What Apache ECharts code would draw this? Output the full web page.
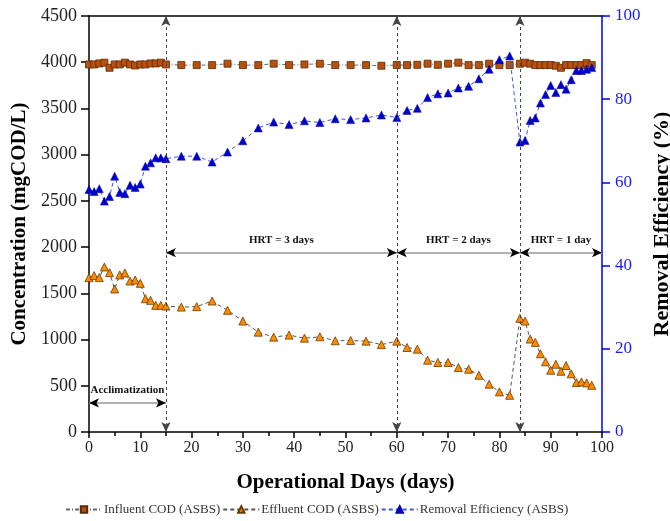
<!DOCTYPE html>
<html>
<head>
<meta charset="utf-8">
<script src="https://cdn.jsdelivr.net/npm/echarts@6/dist/echarts.min.js"></script>
<style>
  html, body { margin: 0; padding: 0; background: #fff; }
  #chart { width: 670px; height: 521px; }
</style>
</head>
<body>
<div id="chart"></div>
<script>
// operational day of each sample
const days = [0, 1, 2, 3, 4, 5, 6, 7, 8, 9, 10, 11, 12, 13, 14, 15,
  18, 21, 24, 27, 30, 33, 36, 39, 42, 45, 48, 51, 54, 57, 60,
  62, 64, 66, 68, 70, 72, 74, 76, 78, 80, 82, 84,
  85, 86, 87, 88, 89, 90, 91, 92, 93, 94, 95, 96, 97, 98];

// mgCOD/L
const influent = [3976, 3976, 3987, 3995, 3940, 3976, 3976, 3995, 3976, 3965, 3976, 3976, 3987, 3987, 3995, 3976,
  3969, 3969, 3969, 3984, 3969, 3969, 3984, 3969, 3976, 3984, 3969, 3969, 3969, 3962, 3970,
  3969, 3972, 3984, 3972, 3984, 3995, 3969, 3969, 3984, 3969, 3969, 3984,
  3995, 3984, 3969, 3969, 3969, 3969, 3962, 3940, 3969, 3969, 3969, 3969, 3990, 3969];

const effluent = [1670, 1692, 1670, 1785, 1724, 1547, 1699, 1720, 1633, 1644, 1608, 1442, 1424, 1370, 1370, 1362,
  1351, 1356, 1417, 1316, 1200, 1080, 1026, 1048, 1015, 1030, 987, 990, 983, 945, 983,
  914, 896, 777, 752, 752, 697, 679, 614, 517, 434, 397, 1229,
  1200, 1005, 969, 846, 759, 668, 733, 657, 719, 629, 535, 542, 531, 505];

// %
const removal = [58.3, 57.8, 58.5, 55.5, 56.6, 61.5, 57.6, 57.3, 59.3, 58.8, 59.6, 63.9, 64.7, 65.9, 65.9, 65.7,
  66.3, 66.3, 64.9, 67.3, 70.0, 73.1, 74.5, 73.9, 74.8, 74.4, 75.3, 75.1, 75.5, 76.2, 75.6,
  77.3, 77.8, 80.4, 81.3, 81.5, 82.7, 83.1, 84.9, 87.2, 89.5, 90.4, 69.7,
  70.1, 74.9, 75.5, 79.1, 81.1, 83.3, 81.6, 83.5, 82.4, 84.7, 86.9, 86.9, 87.2, 87.6];

// phase boundaries and labels
const phaseDays = [15, 60, 84];
const phases = [
  { name: 'Acclimatization', from: 0, to: 15, level: 315 },
  { name: 'HRT = 3 days', from: 15, to: 60, level: 1940 },
  { name: 'HRT = 2 days', from: 60, to: 84, level: 1940 },
  { name: 'HRT = 1 day', from: 84, to: 100, level: 1940 }
];

const serif = 'Liberation Serif';
const pair = (a, b) => a.map((v, i) => [v, b[i]]);

let myChart = echarts.init(document.getElementById('chart'));
myChart.setOption({
  animation: false,
  grid: { left: 89, right: 68, top: 16, bottom: 89, outerBoundsMode: 'none' },
  legend: {
    bottom: 0,
    left: 60,
    itemWidth: 36,
    itemHeight: 8,
    itemGap: 2,
    data: ['Influent COD (ASBS)', 'Effluent COD (ASBS)', 'Removal Efficiency (ASBS)'],
    textStyle: { fontFamily: serif, fontSize: 13, color: '#333', padding: [0, 0, 0, -3] }
  },
  xAxis: [
    {
      type: 'value', min: 0, max: 100, interval: 10,
      name: 'Operational Days (days)', nameLocation: 'middle', nameGap: 40,
      nameTextStyle: { fontFamily: serif, fontSize: 21, fontWeight: 'bold', color: '#000' },
      axisLine: { onZero: false, lineStyle: { color: '#000', width: 1.5 } },
      axisTick: { length: 6, lineStyle: { color: '#000', width: 1.5 } },
      minorTick: { show: true, splitNumber: 2, length: 4, lineStyle: { color: '#000', width: 1.5 } },
      axisLabel: { fontFamily: serif, fontSize: 16, color: '#222', margin: 8 },
      splitLine: { show: false }
    },
    {
      type: 'value', min: 0, max: 100, position: 'top',
      axisLine: { show: true, onZero: false, lineStyle: { color: '#000', width: 1.5 } },
      axisTick: { show: false }, axisLabel: { show: false }, splitLine: { show: false }
    }
  ],
  yAxis: [
    {
      type: 'value', min: 0, max: 4500, interval: 500,
      name: 'Concentration (mgCOD/L)', nameLocation: 'middle', nameGap: 54,
      nameTextStyle: { fontFamily: serif, fontSize: 21, fontWeight: 'bold', color: '#000' },
      axisLine: { show: true, onZero: false, lineStyle: { color: '#000', width: 1.5 } },
      axisTick: { show: true, length: 8, lineStyle: { color: '#000', width: 1.5 } },
      axisLabel: { fontFamily: serif, fontSize: 18, color: '#222', margin: 12, formatter: v => String(v) },
      splitLine: { show: false }
    },
    {
      type: 'value', min: 0, max: 100, interval: 20, position: 'right',
      name: 'Removal Efficiency (%)', nameLocation: 'middle', nameGap: 43,
      nameTextStyle: { fontFamily: serif, fontSize: 22, fontWeight: 'bold', color: '#000' },
      axisLine: { show: true, onZero: false, lineStyle: { color: '#0000ee', width: 1.5 } },
      axisTick: { show: true, length: 8, lineStyle: { color: '#0000ee', width: 1.5 } },
      axisLabel: { fontFamily: serif, fontSize: 17, color: '#1a1aff', margin: 13 },
      splitLine: { show: false }
    }
  ],
  series: [
    {
      name: 'Influent COD (ASBS)', type: 'line', yAxisIndex: 0,
      data: pair(days, influent),
      symbol: 'rect', symbolSize: 7,
      itemStyle: { color: '#b8500e', borderColor: '#5a2a05', borderWidth: 0.8 },
      lineStyle: { color: '#666', width: 1, type: [4, 2, 1, 2] },
      z: 3
    },
    {
      name: 'Effluent COD (ASBS)', type: 'line', yAxisIndex: 0,
      data: pair(days, effluent),
      symbol: 'triangle', symbolSize: 8,
      itemStyle: { color: '#ff8c00', borderColor: '#6b3a00', borderWidth: 0.8 },
      lineStyle: { color: '#555', width: 1, type: [4, 3] },
      z: 3
    },
    {
      name: 'Removal Efficiency (ASBS)', type: 'line', yAxisIndex: 1,
      data: pair(days, removal),
      symbol: 'triangle', symbolSize: 8,
      itemStyle: { color: '#0000cc', borderColor: '#0000aa', borderWidth: 0.5 },
      lineStyle: { color: '#3a55f0', width: 1, type: [4, 3] },
      z: 4
    },
    // phase boundaries
    {
      type: 'line', data: [], yAxisIndex: 0,
      markLine: {
        silent: true, symbol: ['arrow', 'arrow'], symbolSize: [7, 10],
        label: { show: false },
        lineStyle: { color: '#444', width: 1, type: [3, 3] },
        data: phaseDays.map(d => ({ xAxis: d }))
      }
    },
    // phase span lines with labels
    {
      type: 'line', data: [], yAxisIndex: 0,
      markLine: {
        silent: true, symbol: 'none',
        lineStyle: { color: '#999', width: 1.5, type: 'solid' },
        label: {
          show: true, position: 'insideMiddleTop', distance: 7,
          fontFamily: serif, fontSize: 11, fontWeight: 'bold', color: '#111'
        },
        data: phases.map(p => [
          { coord: [p.from, p.level], label: { formatter: p.name } },
          { coord: [p.to, p.level] }
        ])
      }
    },
    // black arrow heads on the span lines
    {
      type: 'line', data: [], yAxisIndex: 0,
      markLine: {
        silent: true, symbol: ['arrow', 'arrow'], symbolSize: [7, 10],
        label: { show: false },
        lineStyle: { color: '#000', width: 0 },
        data: phases.map(p => [{ coord: [p.from, p.level] }, { coord: [p.to, p.level] }])
      }
    }
  ]
});
</script>
</body>
</html>
